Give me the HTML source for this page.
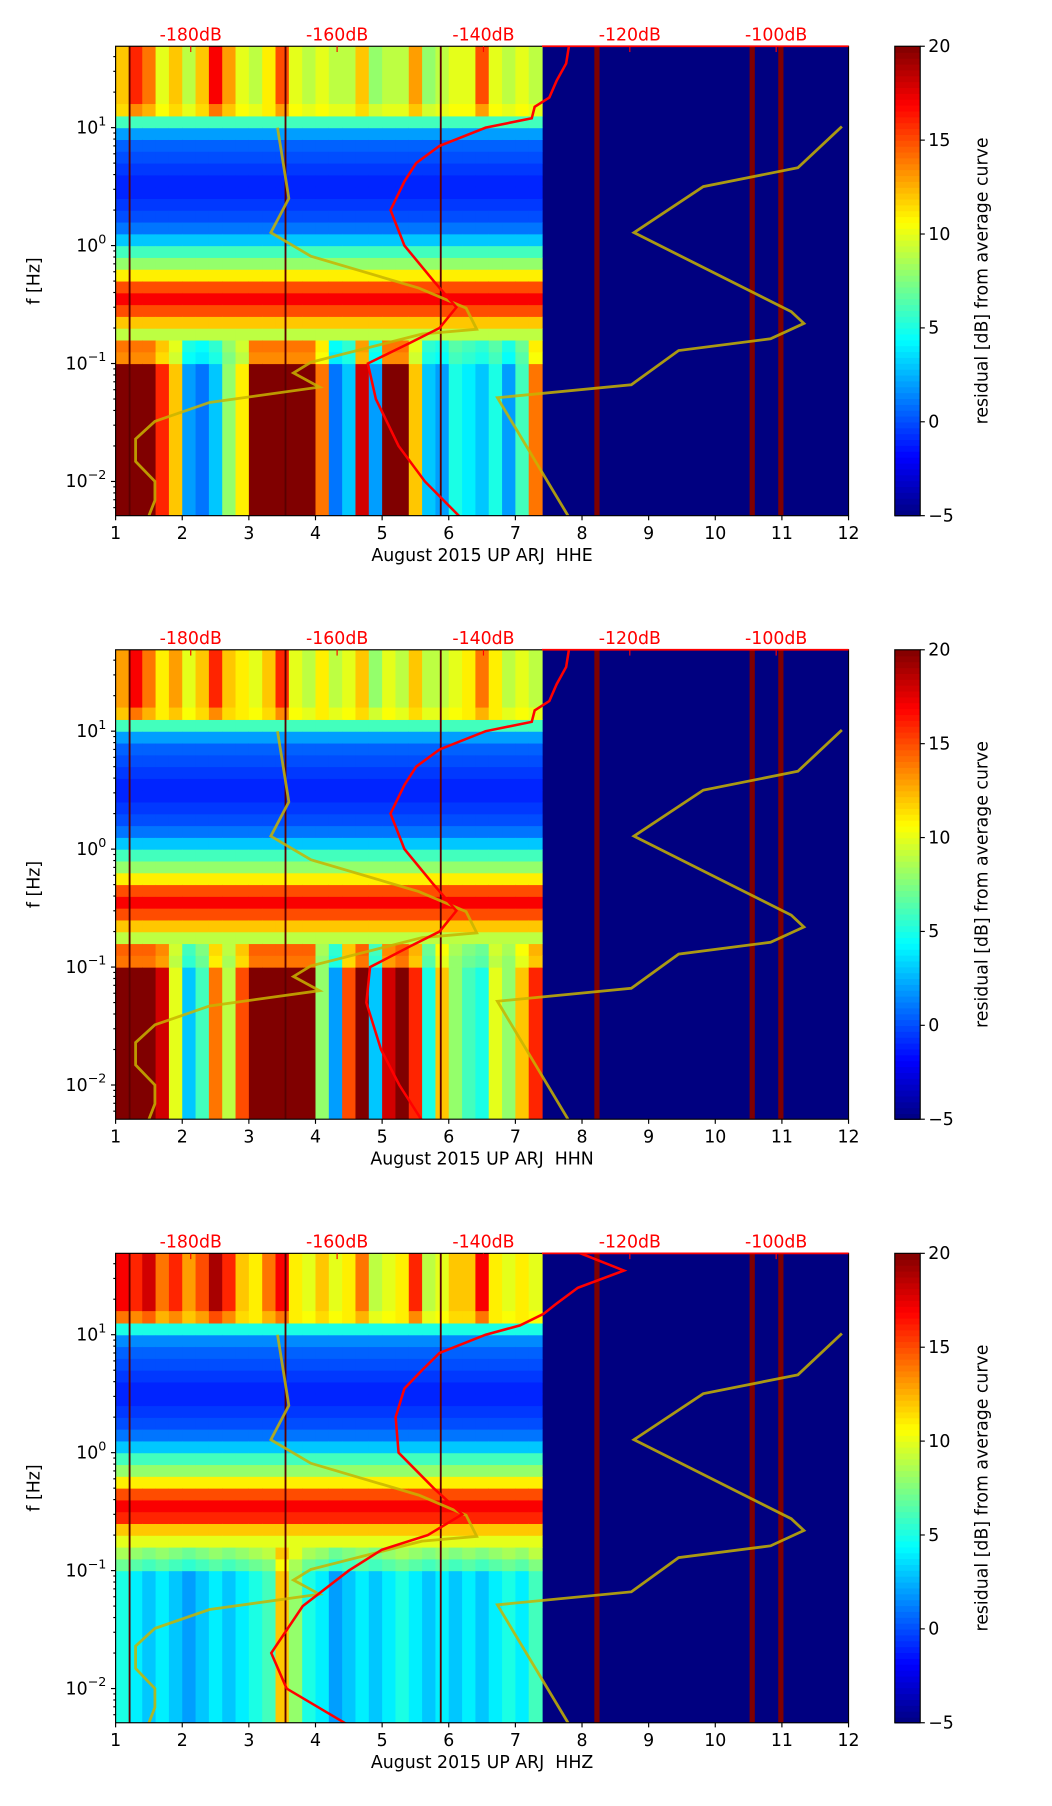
<!DOCTYPE html>
<html><head><meta charset="utf-8"><style>
html,body{margin:0;padding:0;background:#fff}
svg{display:block;font-family:"DejaVu Sans","Liberation Sans",sans-serif}
</style></head><body>
<svg id="fig" width="1052" height="1806" viewBox="0 0 910 1562" preserveAspectRatio="none" xmlns="http://www.w3.org/2000/svg"></svg>
<script>
// ---- data ----
const colDays = [1.0,1.2,1.4,1.6,1.8,2.0,2.2,2.4,2.6,2.8,3.0,3.2,3.4,3.6,3.8,4.0,4.2,4.4,4.6,4.8,5.0,5.2,5.4,5.6,5.8,6.0,6.2,6.4,6.6,6.8,7.0,7.2];
const lowBand1 = [20,20,20,16,12,2,1,3,8,11,20,20,20,20,20,14,1,3,18,2,20,20,12,3,2,5,4,3,5,2,6,14];
const lowBand2 = [20,20,20,18,10,3,6,14,9,15,20,20,20,20,20,8,2,15,20,3,18,20,16,5,12,8,6,5,10,8,12,16];
const lowBand3 = [5,4,3,4,3,2,3,4,3,4,5,6,12,8,5,4,2,3,4,3,4,5,4,3,4,3,4,3,4,5,4,6];
const highBand1 = [12,16,14,10,12,9,12,17,13,10,9,11,15,10,9,10,9,9,12,8,9,9,13,8,9,10,10,15,10,9,10,9];
const highBand2 = [13,17,14,11,13,10,12,16,12,11,10,12,16,10,9,11,9,10,12,8,10,9,12,9,9,10,11,14,11,9,10,9];
const highBand3 = [17,16,18,14,16,13,15,19,16,12,11,14,17,11,10,12,10,11,14,9,10,11,16,9,10,12,12,17,11,10,11,10];
// row profile: log10(f) bins starting at -1.0, step 0.1, up to 1.2
const rowLf = [-1.0,-0.9,-0.8,-0.7,-0.6,-0.5,-0.4,-0.3,-0.2,-0.1,0.0,0.1,0.2,0.3,0.4,0.5,0.6,0.7,0.8,0.9,1.0,1.1];
const rowProfile1 = [7,8,9,12,15,17,15,11,8,6,3,1,0,-0.5,-1,-1,-0.5,0,0.5,2,6,11];
const rowProfile2 = [8,9,9,12,15,17,15,11,8,6,3,1,0,-0.5,-1,-1,-0.5,0,0.5,2,6,11];
const rowProfile3 = [9,12,10,12,16,17,15,11,8,6,3,1,0,-0.5,-1,-1,-0.5,0,0.5,1.5,5,11];
const redF = [50,35,25,18,15,12,10,7,5,3.5,2,1,0.5,0.3,0.2,0.15,0.1,0.05,0.02,0.01,0.005];
const red1 = [-128.3,-128.7,-130,-131,-133,-133.4,-139.7,-146,-149.2,-150.8,-152.7,-150.8,-146.8,-143.7,-146,-150,-155.8,-154.7,-151.6,-148,-143.2];
const red2 = [-128.3,-128.7,-130,-131,-133,-133.4,-139.7,-146,-149.2,-150.8,-152.7,-150.8,-146.8,-143.7,-146,-150,-155.5,-156,-154,-151.5,-148.4];
const red3 = [-127.1,-120.8,-127.1,-130.2,-131.8,-135,-139.7,-146,-148.4,-150.8,-152,-151.6,-146.8,-142.9,-147.6,-153.9,-158.4,-164.7,-169,-166.9,-158.7];
const yaDays = [3.43,3.60,3.33,3.93,5.55,6.26,6.42,5.60,3.93,3.67,4.06,2.41,1.59,1.30,1.30,1.59,1.59,1.50];
const yaLf = [1.0,0.40,0.11,-0.09,-0.36,-0.53,-0.71,-0.75,-0.99,-1.08,-1.20,-1.33,-1.49,-1.64,-1.83,-2.0,-2.16,-2.29];
const ybDays = [11.90,11.24,9.82,8.78,11.14,11.33,10.83,9.45,8.74,6.73,7.79];
const ybLf = [1.01,0.66,0.50,0.11,-0.56,-0.66,-0.79,-0.89,-1.18,-1.29,-2.29];
const maroonDays = [1.21,3.55,5.88];
const bandDays = [8.22,10.55,10.98];
const dbTicks = [-180,-160,-140,-120,-100];
const xTicks = [1,2,3,4,5,6,7,8,9,10,11,12];
const cbTicks = [20,15,10,5,0,-5];
const panels = [
 {top:40, label:"August 2015 UP ARJ\u00a0\u00a0HHE", low:lowBand1, high:highBand1, row:rowProfile1, red:red1},
 {top:562, label:"August 2015 UP ARJ\u00a0\u00a0HHN", low:lowBand2, high:highBand2, row:rowProfile2, red:red2},
 {top:1084, label:"August 2015 UP ARJ\u00a0\u00a0HHZ", low:lowBand3, high:highBand3, row:rowProfile3, red:red3}
];
// ---- drawing ----
const NS="http://www.w3.org/2000/svg";
const svg=document.getElementById('fig');
function el(tag,attrs,parent,txt){const e=document.createElementNS(NS,tag);for(const k in attrs)e.setAttribute(k,attrs[k]);if(txt!==undefined)e.textContent=txt;(parent||svg).appendChild(e);return e;}
function jet(v){let t=(v+5)/25;t=Math.max(0,Math.min(1,t));const c=x=>Math.round(255*Math.max(0,Math.min(1,x)));
 return `rgb(${c(1.5-Math.abs(4*t-3))},${c(1.5-Math.abs(4*t-2))},${c(1.5-Math.abs(4*t-1))})`;}
const X0=100,X1=734,H=406,LFTOP=1.69,LFBOT=-2.29;
const xs=d=>X0+(d-1)/11*(X1-X0);
const dbx=db=>165+(db+180)*6.33;
panels.forEach((p,pi)=>{
 const ys=lf=>p.top+(LFTOP-lf)/(LFTOP-LFBOT)*H;
 const g=el('g',{},svg);
 
 
 const clipId='clip'+pi;
 const cp=el('clipPath',{id:clipId},g);el('rect',{x:X0,y:p.top,width:X1-X0,height:H},cp);
 const hm=el('g',{'clip-path':`url(#${clipId})`},g);
 
 
 el('rect',{x:X0,y:p.top,width:X1-X0,height:H,fill:jet(-5)},hm);
 const dw=xs(1.2)-xs(1.0);
 colDays.forEach((d,ci)=>{
  const x=xs(d);
  const lo=el('rect',{x:x,y:ys(-1.0),width:dw+0.5,height:ys(LFBOT)-ys(-1.0)+1,fill:jet(p.low[ci])},hm);
  
  
  const hi=el('rect',{x:x,y:ys(LFTOP),width:dw+0.5,height:ys(1.2)-ys(LFTOP)+0.5,fill:jet(p.high[ci])},hm);
  
  
  rowLf.forEach((lf,ri)=>{
   let v=p.row[ri];
   if(ri<2) v=(v+p.low[ci])/2;
   if(ri===rowLf.length-1) v=(v+p.high[ci])/2;
   const c=el('rect',{x:x,y:ys(lf+0.1),width:dw+0.5,height:ys(lf)-ys(lf+0.1)+0.5,fill:jet(v)},hm);
   
   
  });
 });
 maroonDays.forEach(d=>{const l=el('line',{x1:xs(d),x2:xs(d),y1:p.top,y2:p.top+H,stroke:'#5a0000','stroke-width':1.6},hm);
  });
 bandDays.forEach(d=>{const r=el('rect',{x:xs(d)-2,y:p.top,width:4.5,height:H,fill:'#7f0000'},hm);
  });
 const ya=el('polyline',{points:yaDays.map((d,i)=>xs(d)+','+ys(yaLf[i])).join(' '),fill:'none',stroke:'#c8b400','stroke-width':2.4,'stroke-opacity':0.85},hm);
 
 const yb=el('polyline',{points:ybDays.map((d,i)=>xs(d)+','+ys(ybLf[i])).join(' '),fill:'none',stroke:'#c8b400','stroke-width':2.4,'stroke-opacity':0.85},hm);
 
 const rc=el('polyline',{points:p.red.map((db,i)=>dbx(db)+','+ys(Math.log10(redF[i]))).join(' '),fill:'none',stroke:'#ff0000','stroke-width':2.2},hm);
 
 const fr=el('rect',{x:X0,y:p.top,width:X1-X0,height:H,fill:'none',stroke:'#000','stroke-width':1},g);
 
 el('line',{x1:dbx(-132),x2:X1,y1:p.top,y2:p.top,stroke:'#ff0000','stroke-width':1.5},g);
 dbTicks.forEach(db=>{
  el('line',{x1:dbx(db),x2:dbx(db),y1:p.top,y2:p.top+5,stroke:'#ff0000','stroke-width':1},g);
  const t=el('text',{x:dbx(db),y:p.top-5,'text-anchor':'middle','font-size':15,fill:'#ff0000'},g,db+'dB');
  
 });
 xTicks.forEach(d=>{
  el('line',{x1:xs(d),x2:xs(d),y1:p.top+H,y2:p.top+H+4,stroke:'#000'},g);
  const t=el('text',{x:xs(d),y:p.top+H+20,'text-anchor':'middle','font-size':15,fill:'#000'},g,String(d));
  
 });
 const xl=el('text',{x:(X0+X1)/2,y:p.top+H+39,'text-anchor':'middle','font-size':15,fill:'#000'},g,p.label);
 
 for(let e=-3;e<=1;e++){for(let m=1;m<=9;m++){const lf=e+Math.log10(m);if(lf<LFBOT||lf>LFTOP)continue;
  el('line',{x1:X0-(m===1?4:2),x2:X0,y1:ys(lf),y2:ys(lf),stroke:'#000'},g);}}
 [1,0,-1,-2].forEach(e=>{
  const t=el('text',{x:X0-8,y:ys(e)+5,'text-anchor':'end','font-size':15,fill:'#000'},g,'10');
  
  el('tspan',{dy:-7,'font-size':11},t,e<0?'\u2212'+(-e):String(e));
 });
 const yl=el('text',{transform:`translate(34,${p.top+H/2}) rotate(-90)`,'text-anchor':'middle','font-size':15,fill:'#000'},g,'f [Hz]');
 
 const CX=774,CW=22;
 const cb=el('g',{},g);
 
 const N=80;for(let i=0;i<N;i++){const v=-5+25*(i+0.5)/N;el('rect',{x:CX,y:p.top+H-(i+1)*H/N,width:CW,height:H/N+0.6,fill:jet(v)},cb);}
 el('rect',{x:CX,y:p.top,width:CW,height:H,fill:'none',stroke:'#000'},cb);
 cbTicks.forEach(v=>{const y=p.top+H-(v+5)/25*H;
  el('line',{x1:CX+CW,x2:CX+CW+4,y1:y,y2:y,stroke:'#000'},cb);
  const t=el('text',{x:CX+CW+7,y:y+5,'font-size':15,fill:'#000'},cb,v<0?'\u2212'+(-v):String(v));
  });
 const cl=el('text',{transform:`translate(854,${p.top+H/2}) rotate(-90)`,'text-anchor':'middle','font-size':15,fill:'#000'},cb,'residual [dB] from average curve');
 
});
</script>
</body></html>
